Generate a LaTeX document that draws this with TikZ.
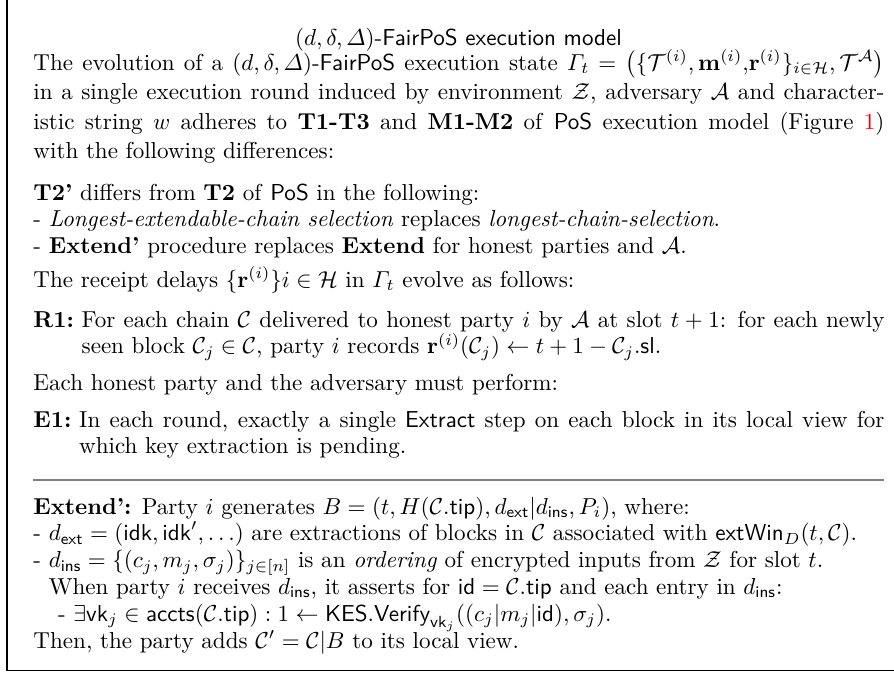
\documentclass[tikz,border=0pt]{standalone}
\usepackage{amsmath}
\usepackage{xcolor}
\usetikzlibrary{positioning}

% one pixel of the 894x673 layout
\newdimen\pxu \pxu=0.4335pt
\newlength\dashw

\newcommand{\sfx}[1]{\textsf{#1}}
% labelled paragraph with hanging indent (R1:, E1:)
\newcommand{\labpar}[2]{\setbox0=\hbox{\textbf{#1}\ }\hangindent=\wd0 \hangafter=1 \noindent\box0 #2\par}

\begin{document}
\begin{tikzpicture}[x=\pxu, y=-\pxu,
  body/.style={anchor=base west, inner sep=0pt, text width=851\pxu, align=justify,
    font=\fontsize{10}{26.8\pxu}\selectfont, execute at begin node={\lineskiplimit=-20pt}},
  para/.style={body, font=\fontsize{10}{29.5\pxu}\selectfont},
  head/.style={anchor=base, inner sep=0pt, font=\fontsize{10}{12}\selectfont},
  rulebar/.style={draw=black!50, line width=0.85pt},
  frame/.style={draw, line width=0.45pt},
]
\useasboundingbox (0,0) rectangle (894,673);
% box runs off the top and the right
\draw[frame] (7,-10) |- (904,670);

\node[head] (title) at (458.5,45) {$(d,\delta,\varDelta)$-\sfx{FairPoS execution model}};

\node[para] (intro) at (33,70) {The evolution of a $(d,\delta,\varDelta)$-\sfx{FairPoS} execution state $\varGamma_t=\bigl(\{\mathcal{T}^{(i)},\mathbf{m}^{(i)}{,}\mathbf{r}^{(i)}\}_{i\in\mathcal{H}},\mathcal{T}^{\mathcal{A}}\bigr)$\linebreak
in a single execution round induced by environment $\mathcal{Z}$, adversary $\mathcal{A}$ and character-\linebreak
istic string $w$ adheres to \textbf{T1-T3} and \textbf{M1-M2} of \sfx{PoS} execution model (Figure~\textcolor{red}{1})\linebreak
with the following differences:};

\node[body] (tdiff) at (33,200) {\textbf{T2'} differs from \textbf{T2} of \sfx{PoS} in the following:\par
- \textit{Longest-extendable-chain selection} replaces \textit{longest-chain-selection}.\par
- \textbf{Extend'} procedure replaces \textbf{Extend} for honest parties and $\mathcal{A}$.};

\node[body] (delays) at (33,287) {The receipt delays $\{\mathbf{r}^{(i)}\}i\in\mathcal{H}$ in $\varGamma_t$ evolve as follows:};

\node[body] (rone) at (33,327) {\labpar{R1:}{For each chain $\mathcal{C}$ delivered to honest party $i$ by $\mathcal{A}$ at slot $t+1$: for each newly\linebreak
seen block $\mathcal{C}_j\in\mathcal{C}$, party $i$ records $\mathbf{r}^{(i)}(\mathcal{C}_j)\leftarrow t+1-\mathcal{C}_j.\sfx{sl}$.}};

\node[body] (each) at (33,390) {Each honest party and the adversary must perform:};

\node[body] (eone) at (33,427) {\labpar{E1:}{In each round, exactly a single \sfx{Extract} step on each block in its local view for\linebreak
which key extraction is pending.}};

\coordinate (rl) at (33,480);
\coordinate (rr) at (884,480);
\draw[rulebar] (rl) -- (rr);

\node[body] (ext) at (33,514) {\settowidth\dashw{- }%
\textbf{Extend':} Party $i$ generates $B=(t,H(\mathcal{C}.\sfx{tip}),d_{\sfx{ext}}|d_{\sfx{ins}},P_i)$, where:\par
- $d_{\sfx{ext}}=(\sfx{idk},\sfx{idk}',\ldots)$ are extractions of blocks in $\mathcal{C}$ associated with $\sfx{extWin}_D(t,\mathcal{C})$.\par
- $d_{\sfx{ins}}=\{(c_j,m_j,\sigma_j)\}_{j\in[n]}$ is an \textit{ordering} of encrypted inputs from $\mathcal{Z}$ for slot $t$.\par
\hspace*{\dashw}When party $i$ receives $d_{\sfx{ins}}$, it asserts for $\sfx{id}=\mathcal{C}.\sfx{tip}$ and each entry in $d_{\sfx{ins}}$:\par
\hspace*{\dashw}\hspace*{0.4em}- $\exists\sfx{vk}_j\in\sfx{accts}(\mathcal{C}.\sfx{tip}):1\leftarrow\sfx{KES}.\sfx{Verify}_{\sfx{vk}_j}((c_j|m_j|\sfx{id}),\sigma_j)$.\par
Then, the party adds $\mathcal{C}'=\mathcal{C}|B$ to its local view.};
\end{tikzpicture}
\end{document}
